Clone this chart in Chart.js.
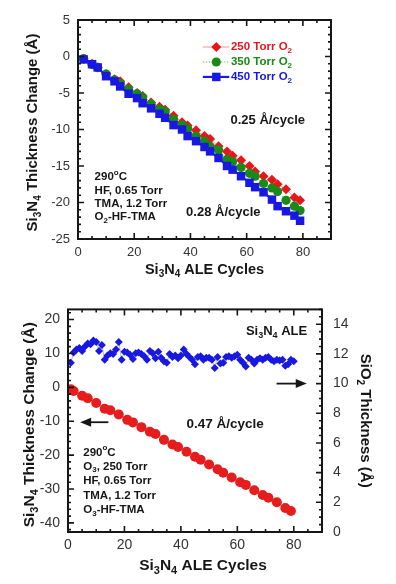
<!DOCTYPE html>
<html>
<head>
<meta charset="utf-8">
<script src="https://cdn.jsdelivr.net/npm/chart.js@4.4.1/dist/chart.umd.min.js"></script>
<style>
  html, body { margin: 0; padding: 0; background: #fff; }
  #wrap { position: relative; width: 396px; height: 584px; }
  canvas { position: absolute; left: 0; }
  #topChart { top: 0; }
  #bottomChart { top: 290px; }
</style>
</head>
<body>
<div id="wrap">
  <canvas id="topChart" width="396" height="290"></canvas>
  <canvas id="bottomChart" width="396" height="294"></canvas>
</div>
<script>
'use strict';

// top panel: O2-HF-TMA at three O2 pressures
const cyclesO2 = [2, 5, 7, 10, 13, 15, 18, 21, 23, 26, 29, 31, 34, 37, 39, 42, 45, 47, 50, 53, 55, 58, 61, 63, 66, 69, 71, 74, 77, 79];
const torr250 = [-0.3, -1.0, -1.5, -2.4, -3.1, -3.4, -4.2, -5.0, -5.4, -6.3, -6.9, -7.3, -8.1, -9.0, -9.45, -10.1, -10.9, -11.3, -12.3, -13.0, -13.6, -14.2, -15.0, -15.75, -16.4, -16.9, -17.5, -18.2, -19.3, -19.7];
const torr350 = [-0.3, -1.1, -1.5, -2.4, -3.2, -3.7, -4.5, -5.1, -5.6, -6.5, -7.2, -7.5, -8.6, -9.4, -9.9, -10.9, -11.6, -12.3, -12.8, -14.1, -14.4, -15.2, -16.0, -16.4, -17.4, -18.0, -18.5, -19.7, -20.5, -21.1];
const torr450 = [-0.4, -1.05, -1.5, -2.7, -3.4, -4.1, -5.1, -5.7, -6.4, -7.1, -7.85, -8.4, -9.4, -10.0, -10.9, -11.6, -12.4, -13.0, -13.9, -15.0, -15.5, -16.4, -17.3, -17.9, -18.6, -19.6, -20.5, -21.2, -21.8, -22.5];

// bottom panel: O3-HF-TMA, Si3N4 change (left) and SiO2 thickness (right)
const cyclesO3 = [1, 2, 5, 7, 10, 13, 15, 18, 21, 23, 26, 29, 31, 34, 37, 39, 42, 45, 47, 50, 53, 55, 58, 61, 63, 66, 69, 71, 74, 77, 79];
const nitrideO3 = [-0.6, -1.1, -2.5, -3.25, -4.6, -6.3, -6.75, -8.0, -9.6, -10.35, -11.75, -13.1, -13.8, -15.5, -16.9, -17.6, -19.0, -20.5, -21.4, -22.8, -24.2, -25.2, -26.6, -28.0, -28.8, -30.4, -31.8, -32.6, -33.9, -35.6, -36.5];
const cyclesOx = [1, 2, 3, 4, 5, 6, 7, 8, 9, 10, 11, 12, 13, 14, 15, 16, 17, 18, 19, 20,
  21, 22, 23, 24, 25, 26, 27, 28, 29, 30, 31, 32, 33, 34, 35, 36, 37, 38, 39, 40,
  41, 42, 43, 44, 45, 46, 47, 48, 49, 50, 51, 52, 53, 54, 55, 56, 57, 58, 59, 60,
  61, 62, 63, 64, 65, 66, 67, 68, 69, 70, 71, 72, 73, 74, 75, 76, 77, 78, 79, 80];
const oxide = [11.4, 12.1, 12.3, 12.4, 12.2, 12.5, 12.7, 12.65, 12.9, 12.8,
  12.2, 12.6, 11.6, 11.9, 12.05, 12.0, 12.3, 12.8, 11.6, 12.15,
  12.1, 11.95, 11.65, 12.05, 12.1, 12.0, 11.85, 11.6, 12.2, 12.05,
  11.7, 12.15, 11.75, 11.5, 11.4, 12.0, 11.8, 11.9, 11.7, 11.9,
  12.3, 12.0, 11.8, 11.6, 11.3, 11.8, 11.85, 11.6, 11.75, 11.75,
  11.6, 11.05, 11.8, 11.35, 11.4, 11.8, 11.85, 11.75, 11.85, 11.95,
  11.6, 11.4, 11.15, 11.75, 11.6, 11.35, 11.6, 11.7, 11.6, 11.75,
  11.8, 11.6, 11.5, 11.6, 11.55, 11.6, 11.2, 11.3, 11.6, 11.5];

const xTicks = [0, 20, 40, 60, 80];

const FONT = "'Liberation Sans', Arial, Helvetica, sans-serif";
const INK = '#161616';
const RED = '#e8161b';
const GREEN = '#178a17';
const BLUE = '#1818e0';

function pts(xs, ys) {
    return xs.map((x, i) => ({ x, y: ys[i] }));
}

// text with '_c' subscript and '^c' superscript
function drawRich(ctx, text, x, y, opt) {
    const size = opt.size;
    const small = Math.round(size * 0.68);
    const parts = [];
    for (let i = 0; i < text.length; i++) {
        const c = text[i];
        if ((c === '_' || c === '^') && i + 1 < text.length) {
            parts.push({ t: text[i + 1], kind: c });
            i++;
        } else {
            const last = parts[parts.length - 1];
            if (last && last.kind === '') last.t += c;
            else parts.push({ t: c, kind: '' });
        }
    }
    const fontFor = p => 'bold ' + (p.kind ? small : size) + 'px ' + FONT;
    let total = 0;
    parts.forEach(p => {
        ctx.font = fontFor(p);
        p.w = ctx.measureText(p.t).width;
        total += p.w;
    });
    ctx.save();
    ctx.translate(x, y);
    if (opt.rotate) ctx.rotate(opt.rotate);
    ctx.fillStyle = opt.color || INK;
    ctx.textBaseline = 'middle';
    ctx.textAlign = 'left';
    let cx = opt.align === 'left' ? 0 : -total / 2;
    parts.forEach(p => {
        ctx.font = fontFor(p);
        const dy = p.kind === '_' ? size * 0.32 : (p.kind === '^' ? -size * 0.38 : 0);
        ctx.fillText(p.t, cx, dy);
        cx += p.w;
    });
    ctx.restore();
}

function drawArrow(ctx, x1, y, x2) {
    const dir = x2 > x1 ? 1 : -1;
    ctx.save();
    ctx.strokeStyle = INK;
    ctx.fillStyle = INK;
    ctx.lineWidth = 1.8;
    ctx.beginPath();
    ctx.moveTo(x1, y);
    ctx.lineTo(x2 - dir * 8, y);
    ctx.stroke();
    ctx.beginPath();
    ctx.moveTo(x2, y);
    ctx.lineTo(x2 - dir * 11, y - 4.5);
    ctx.lineTo(x2 - dir * 11, y + 4.5);
    ctx.closePath();
    ctx.fill();
    ctx.restore();
}

function drawMarker(ctx, style, x, y, r, color) {
    ctx.save();
    ctx.fillStyle = color;
    ctx.beginPath();
    if (style === 'circle') {
        ctx.arc(x, y, r, 0, Math.PI * 2);
    } else if (style === 'rect') {
        const s = r * Math.SQRT1_2;
        ctx.rect(x - s, y - s, 2 * s, 2 * s);
    } else {
        ctx.moveTo(x, y - r);
        ctx.lineTo(x + r, y);
        ctx.lineTo(x, y + r);
        ctx.lineTo(x - r, y);
        ctx.closePath();
    }
    ctx.fill();
    ctx.restore();
}

// frame plus inward major/minor tick marks
function frameTicks(marks) {
    return {
        id: 'frameTicks',
        afterDraw(chart) {
            const ctx = chart.ctx;
            const a = chart.chartArea;
            ctx.save();
            ctx.strokeStyle = INK;
            ctx.lineWidth = 1.6;
            ctx.beginPath();
            marks.forEach(m => {
                const scale = chart.scales[m.axis];
                const start = Math.ceil(scale.min / m.minor - 1e-9) * m.minor;
                for (let v = start; v <= scale.max + 1e-9; v += m.minor) {
                    const q = v / m.major;
                    const len = Math.abs(q - Math.round(q)) < 1e-6 ? 6 : 3;
                    const p = scale.getPixelForValue(v);
                    m.sides.forEach(side => {
                        if (side === 'bottom') { ctx.moveTo(p, a.bottom); ctx.lineTo(p, a.bottom - len); }
                        if (side === 'top') { ctx.moveTo(p, a.top); ctx.lineTo(p, a.top + len); }
                        if (side === 'left') { ctx.moveTo(a.left, p); ctx.lineTo(a.left + len, p); }
                        if (side === 'right') { ctx.moveTo(a.right, p); ctx.lineTo(a.right - len, p); }
                    });
                }
            });
            ctx.stroke();
            ctx.lineWidth = 2;
            ctx.strokeRect(a.left, a.top, a.right - a.left, a.bottom - a.top);
            ctx.restore();
        }
    };
}

function axisScale(min, max, step, size, padding, extra) {
    return Object.assign({
        type: 'linear',
        min,
        max,
        grid: { display: false, drawTicks: false },
        border: { display: false },
        ticks: {
            stepSize: step,
            includeBounds: false,
            padding,
            color: '#333',
            font: { family: FONT, size }
        }
    }, extra);
}

const topNotes = {
    id: 'topNotes',
    afterDraw(chart) {
        const { ctx, chartArea: a } = chart;
        const x = chart.scales.x, y = chart.scales.y;
        const px = v => x.getPixelForValue(v);
        const py = v => y.getPixelForValue(v);

        drawRich(ctx, 'Si_3N_4 ALE Cycles', (a.left + a.right) / 2, a.bottom + 31, { size: 14.5 });
        drawRich(ctx, 'Si_3N_4 Thickness Change (Å)', 33, (a.top + a.bottom) / 2 + 3, { size: 15, rotate: -Math.PI / 2 });

        drawRich(ctx, '0.25 Å/cycle', px(67.5), py(-8.8), { size: 13 });
        drawRich(ctx, '0.28 Å/cycle', px(51.7), py(-21.3), { size: 13 });

        const block = ['290^oC', 'HF, 0.65 Torr', 'TMA, 1.2 Torr', 'O_2-HF-TMA'];
        const rows = [-16.5, -18.35, -20.2, -22.0];
        block.forEach((t, i) => drawRich(ctx, t, px(5.9), py(rows[i]), { size: 11.5, align: 'left' }));

        // legend
        const legend = [
            { text: '250 Torr O_2', color: RED, style: 'rectRot', r: 5, line: 'rgba(235,60,60,0.45)', lw: 1.2, dash: [] },
            { text: '350 Torr O_2', color: GREEN, style: 'circle', r: 4.6, line: 'rgba(30,140,30,0.6)', lw: 1, dash: [1.5, 1.5] },
            { text: '450 Torr O_2', color: BLUE, style: 'rect', r: 6, line: BLUE, lw: 2.2, dash: [] }
        ];
        const legY = [1.3, -0.75, -2.8];
        legend.forEach((l, i) => {
            const ly = py(legY[i]);
            ctx.save();
            ctx.strokeStyle = l.line;
            ctx.lineWidth = l.lw;
            ctx.setLineDash(l.dash);
            ctx.beginPath();
            ctx.moveTo(px(44.4), ly);
            ctx.lineTo(px(53.8), ly);
            ctx.stroke();
            ctx.restore();
            drawMarker(ctx, l.style, px(49.2), ly, l.r, l.color);
            drawRich(ctx, l.text, px(54.4), ly, { size: 11.5, align: 'left', color: l.color });
        });
    }
};

const bottomNotes = {
    id: 'bottomNotes',
    afterDraw(chart) {
        const { ctx, chartArea: a } = chart;
        const x = chart.scales.x, y = chart.scales.y, y2 = chart.scales.y2;
        const px = v => x.getPixelForValue(v);
        const py = v => y.getPixelForValue(v);

        drawRich(ctx, 'Si_3N_4 ALE Cycles', (a.left + a.right) / 2 + 8, a.bottom + 34, { size: 15.5 });
        drawRich(ctx, 'Si_3N_4 Thickness Change (Å)', 30, (a.top + a.bottom) / 2 + 4, { size: 15.5, rotate: -Math.PI / 2 });
        drawRich(ctx, 'SiO_2 Thickness (Å)', 365, (a.top + a.bottom) / 2, { size: 15, rotate: Math.PI / 2 });

        drawRich(ctx, 'Si_3N_4 ALE', px(73.9), py(16.6), { size: 13 });
        drawRich(ctx, '0.47 Å/cycle', px(55.7), py(-11.0), { size: 13.5 });

        drawArrow(ctx, px(73.9), y2.getPixelForValue(10), px(84.6));
        drawArrow(ctx, px(14.3), py(-10.3), px(4.3));

        const block = ['290^oC', 'O_3, 250 Torr', 'HF, 0.65 Torr', 'TMA, 1.2 Torr', 'O_3-HF-TMA'];
        const rows = [-19.2, -23.4, -27.7, -31.9, -36.3];
        block.forEach((t, i) => drawRich(ctx, t, px(5.4), py(rows[i]), { size: 11.5, align: 'left' }));
    }
};

new Chart(document.getElementById('topChart'), {
    type: 'line',
    data: {
        datasets: [{
            label: '450 Torr O2',
            data: pts(cyclesO2, torr450),
            order: 0,
            borderColor: BLUE,
            borderWidth: 2,
            pointStyle: 'rect',
            pointRadius: 6,
            pointBackgroundColor: BLUE,
            pointBorderWidth: 0
        }, {
            label: '350 Torr O2',
            data: pts(cyclesO2, torr350),
            order: 1,
            borderColor: 'rgba(30,140,30,0.55)',
            borderWidth: 1,
            borderDash: [1.5, 1.5],
            pointStyle: 'circle',
            pointRadius: 4.6,
            pointBackgroundColor: GREEN,
            pointBorderWidth: 0
        }, {
            label: '250 Torr O2',
            data: pts(cyclesO2, torr250),
            order: 2,
            borderColor: 'rgba(235,60,60,0.45)',
            borderWidth: 1,
            pointStyle: 'rectRot',
            pointRadius: 5,
            pointBackgroundColor: RED,
            pointBorderWidth: 0
        }]
    },
    options: {
        responsive: false,
        animation: false,
        devicePixelRatio: 1,
        layout: { padding: { top: 20, right: 65, left: 0, bottom: 0 } },
        plugins: { legend: { display: false }, tooltip: { enabled: false } },
        scales: {
            x: axisScale(0, 90, 20, 13, 6, { afterFit: s => { s.height = 51; } }),
            y: axisScale(-25, 5, 5, 13, 8, { afterFit: s => { s.width = 78; } })
        }
    },
    plugins: [
        frameTicks([
            { axis: 'x', major: 20, minor: 5, sides: ['top', 'bottom'] },
            { axis: 'y', major: 5, minor: 1, sides: ['left', 'right'] }
        ]),
        topNotes
    ]
});

new Chart(document.getElementById('bottomChart'), {
    type: 'line',
    data: {
        datasets: [{
            label: 'SiO2 thickness',
            data: pts(cyclesOx, oxide),
            yAxisID: 'y2',
            borderColor: 'rgba(40,40,230,0.35)',
            borderWidth: 1,
            pointStyle: 'rectRot',
            pointRadius: 4,
            pointBackgroundColor: BLUE,
            pointBorderWidth: 0
        }, {
            label: 'Si3N4 change',
            data: pts(cyclesO3, nitrideO3),
            yAxisID: 'y',
            showLine: false,
            pointStyle: 'circle',
            pointRadius: 5,
            pointBackgroundColor: '#e51d1d',
            pointBorderWidth: 0
        }]
    },
    options: {
        responsive: false,
        animation: false,
        devicePixelRatio: 1,
        layout: { padding: { top: 10, right: 0, left: 0, bottom: 0 } },
        plugins: { legend: { display: false }, tooltip: { enabled: false } },
        scales: {
            x: axisScale(0, 90, 20, 14, 5, { afterFit: s => { s.height = 52; } }),
            y: axisScale(-42.7, 23, 10, 14, 8, { position: 'left', afterFit: s => { s.width = 68; } }),
            y2: axisScale(0, 15, 2, 14, 11, { position: 'right', afterFit: s => { s.width = 74; } })
        }
    },
    plugins: [
        frameTicks([
            { axis: 'x', major: 20, minor: 5, sides: ['top', 'bottom'] },
            { axis: 'y', major: 10, minor: 2, sides: ['left'] },
            { axis: 'y2', major: 2, minor: 0.5, sides: ['right'] }
        ]),
        bottomNotes
    ]
});
</script>
</body>
</html>
